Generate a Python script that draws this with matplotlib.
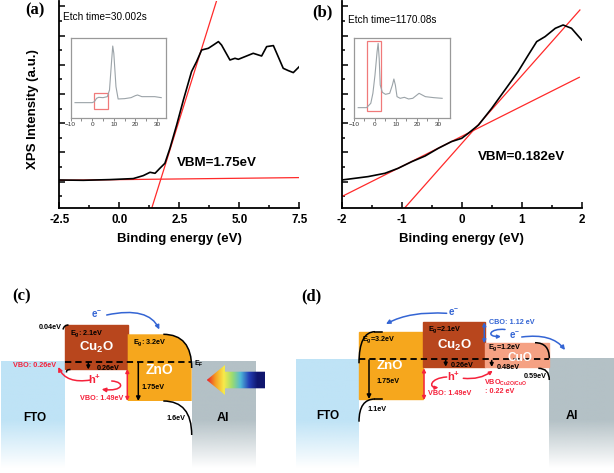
import numpy as np
import matplotlib
matplotlib.use("Agg")
import matplotlib.pyplot as plt
from matplotlib.patches import Rectangle, Polygon, PathPatch, FancyArrowPatch
from matplotlib.path import Path
from matplotlib.colors import LinearSegmentedColormap, to_rgb

plt.rcParams["font.family"] = ["Liberation Sans", "DejaVu Sans"]
plt.rcParams["mathtext.fontset"] = "custom"
plt.rcParams["mathtext.bf"] = "Liberation Sans:bold"
plt.rcParams["mathtext.rm"] = "Liberation Sans"
plt.rcParams["mathtext.default"] = "bf"

W, H = 614, 473

# ---- (a) etch time 30.002 s ----
a_x = [-2.5, -1.5, -0.39, 0.58, 1.0, 1.28, 1.49, 1.69, 1.90, 2.11, 2.39, 2.67, 3.01, 3.22,
       3.43, 3.71, 3.92, 4.13, 4.26, 4.61, 4.82, 4.96, 5.24, 5.58, 5.93, 6.14, 6.42, 6.56,
       6.83, 7.04, 7.25, 7.5]
a_y = [28.3, 28.0, 28.7, 29.7, 32.7, 36.0, 35.0, 40.0, 45.0, 60.0, 83.3, 108.3, 136.7, 146.7,
       158.3, 160.0, 163.3, 166.7, 163.3, 148.3, 150.0, 149.0, 151.7, 155.0, 152.3, 161.7, 162.7, 155.0,
       140.0, 137.7, 135.7, 141.7]
a_base_x, a_base_y = [-2.5, 7.5], [28.0, 30.7]
a_edge_x, a_edge_y = [1.35, 4.06], [0.0, 208.0]
a_ins_x = [-8, 0, 1, 2, 3, 5, 7, 8, 9, 9.5, 10, 11, 12, 15, 18, 20, 21, 23, 26, 29, 32]
a_ins_y = [47, 47, 50, 60, 63, 62, 65, 85, 175, 217, 195, 95, 58, 59, 62, 68, 70, 65, 65, 65, 62]
a_ins_box = (0.9, 7.4, 28, 75)

# ---- (b) etch time 1170.08 s ----
b_x = [-2.0, -1.56, -1.28, -1.06, -0.83, -0.61, -0.39, -0.17, 0.0, 0.11, 0.28, 0.5, 0.72,
       0.94, 1.11, 1.25, 1.39, 1.56, 1.69, 1.83, 2.0]
b_y = [28.3, 31.7, 35.0, 40.0, 46.7, 52.3, 60.0, 66.7, 70.0, 75.0, 83.3, 100.0, 118.3,
       136.7, 153.3, 166.7, 171.7, 180.0, 183.3, 180.0, 168.3]
b_steep_x, b_steep_y = [-0.956, 1.97], [0.0, 198.3]
b_flat_x, b_flat_y = [-2.0, 1.96], [11.7, 131.0]
b_ins_x = [-8, -4, -2, -1, 0, 1, 1.5, 2, 2.5, 3.5, 5, 7, 8.3, 9, 9.7, 10.5, 12, 14, 16, 18, 21, 24, 28, 32]
b_ins_y = [32, 32, 45, 75, 130, 200, 225, 180, 100, 78, 72, 75, 100, 118, 100, 65, 60, 63, 58, 60, 75, 65, 62, 60]
b_ins_box = (-3.8, 2.9, 22, 233)

RED = "#ff2a2a"
TRED = "#f5223b"
BLUE = "#3465d4"
fig = plt.figure(figsize=(W / 100, H / 100), dpi=100)


def px(x, y):
    return x / W, 1 - y / H


# ================= bottom band diagrams (pixel layout) =================
bx = fig.add_axes([0, 0, 1, 1], facecolor="none", zorder=0)
bx.set_xlim(0, W)
bx.set_ylim(H, 0)
bx.axis("off")


def fade_block(x0, x1, y0, y1, color, fade_from):
    n = 200
    ys = np.linspace(y0, y1, n)
    alpha = np.clip((y1 - ys) / (y1 - fade_from), 0, 1)
    img = np.zeros((n, 2, 4))
    img[:, :, :3] = to_rgb(color)
    img[:, :, 3] = alpha[:, None]
    bx.imshow(img, extent=(x0, x1, y1, y0), aspect="auto", interpolation="bilinear", zorder=1)


def bend(pts, lw=1.1, color="black", z=5):
    codes = [Path.MOVETO] + [Path.CURVE3] * 2 if len(pts) == 3 else [Path.MOVETO] + [Path.CURVE4] * 3
    bx.add_patch(PathPatch(Path(pts, codes), fill=False, lw=lw, color=color, zorder=z))


def carrow(pts, color, lw=1.1, ms=6):
    codes = [Path.MOVETO] + [Path.CURVE3] * 2 if len(pts) == 3 else [Path.MOVETO] + [Path.CURVE4] * 3
    bx.add_patch(FancyArrowPatch(path=Path(pts, codes), arrowstyle="-|>", mutation_scale=ms,
                                 color=color, lw=lw, zorder=6))


def sarrow(p0, p1, color="black", style="-|>", lw=1.1, ms=6):
    bx.add_patch(FancyArrowPatch(p0, p1, arrowstyle=style, mutation_scale=ms, color=color,
                                 lw=lw, shrinkA=0, shrinkB=0, zorder=6))


def lab(x, y, s, color="black", size=5.2, ha="left", **kw):
    bx.text(x, y, s, color=color, fontsize=size, fontweight="bold", ha=ha, va="center", zorder=7, **kw)


FTO_C, AL_C = "#bfe3f6", "#b4c1c6"
CU2O_C, ZNO_C, CUO_C = "#b8461d", "#f6a71d", "#f5a183"

# --- (c) FTO / Cu2O / ZnO / Al ---
fade_block(1, 65, 361.7, 468, FTO_C, 420)
fade_block(191.7, 255, 361.7, 468, AL_C, 420)
bx.add_patch(Rectangle((65, 325), 62.7, 44, color=CU2O_C, zorder=2))
zno_c = Path([(127.7, 334.3), (163.3, 334.3), (191.7, 334.3), (191.7, 368), (191.7, 401),
              (127.7, 401), (127.7, 334.3)],
             [Path.MOVETO, Path.LINETO, Path.CURVE3, Path.CURVE3, Path.LINETO, Path.LINETO, Path.CLOSEPOLY])
bx.add_patch(PathPatch(zno_c, color=ZNO_C, lw=0, zorder=2))
bend([(163.3, 334.3), (191.7, 334.3), (191.7, 368)])
bend([(163.3, 401), (191.7, 401), (191.7, 435)])
bend([(63, 329.5), (64, 325), (68.5, 325)])
bend([(70.5, 369.5), (66, 369.5), (66.5, 372.5)])
bx.plot([65, 191.7], [362.3, 362.3], color="black", lw=1.3, ls=(0, (3.5, 2.2)), zorder=5)
sarrow((138.3, 362.3), (138.3, 401))
sarrow((88.3, 362.3), (88.3, 369.5), ms=5)
sarrow((127.3, 369), (127.3, 401), color=TRED, style="<|-|>", ms=5)
carrow([(106.7, 315), (135, 309), (152, 314), (159.3, 329.5)], BLUE)
carrow([(90.7, 380), (66, 384), (58.3, 367)], TRED)
carrow([(111.7, 381), (126, 382), (123, 392), (101.7, 389.3)], TRED)

# rainbow light arrow
rb = Polygon([(206.7, 380), (225, 365), (225, 371.7), (265, 371.7), (265, 388.3), (225, 388.3),
              (225, 395)], closed=True, facecolor="none", edgecolor="none")
bx.add_patch(rb)
rain = LinearSegmentedColormap.from_list("rain", ["#e8202a", "#f5a023", "#f8ea4a", "#9cdc70",
                                                  "#4fb8d8", "#2440b8", "#10166e", "#10166e"])
im = bx.imshow(np.linspace(0, 1, 256)[None, :], cmap=rain, extent=(206.7, 265, 395, 365),
               aspect="auto", zorder=4)
im.set_clip_path(rb)

lab(39, 327, "0.04eV")
lab(70, 333.3, "E$_g$: 2.1eV")
lab(96, 347.7, "Cu$_2$O", color="white", size=9.5, ha="center")
lab(133.3, 342.7, "E$_g$: 3.2eV")
lab(159.3, 369.5, "ZnO", color="white", size=10, ha="center")
lab(194.3, 363.5, "E$_F$", size=5)
lab(96.7, 368.7, "0.26eV")
lab(13.3, 365.7, "VBO: 0.26eV", color=TRED)
lab(95, 379.3, "h$^{+}$", color=TRED, size=8, ha="center")
lab(80, 398.3, "VBO: 1.49eV", color=TRED)
lab(141.7, 387.3, "1.75eV")
lab(166.7, 418.3, "1.6eV")
lab(35, 417.7, "FTO", size=8.5, ha="center")
lab(222.7, 418.3, "Al", size=9, ha="center")
lab(96.7, 314.5, "e$^{-}$", color=BLUE, size=7, ha="center")

# --- (d) FTO / ZnO / Cu2O / CuO / Al ---
fade_block(296, 359, 359.3, 468, FTO_C, 420)
fade_block(549.3, 613.5, 358.3, 468, AL_C, 420)
bx.add_patch(Rectangle((359, 331.7), 64.3, 67.3, color=ZNO_C, zorder=2))
bx.add_patch(Rectangle((423.3, 322.3), 61.7, 44.4, color=CU2O_C, zorder=2))
bx.add_patch(Rectangle((485, 343.3), 64.3, 23.4, color=CUO_C, zorder=2))
bend([(359, 363.3), (359, 331.7), (375, 331.7)])
bx.plot([375, 381.7], [331.7, 331.7], color="black", lw=1.1, zorder=5)
bend([(359, 421.7), (359, 399), (375, 399)])
bx.plot([375, 381.7], [399, 399], color="black", lw=1.1, zorder=5)
bend([(535, 342.7), (549.3, 342.7), (549.3, 358.3)])
bend([(538.3, 368.3), (549.3, 368.3), (549.3, 380)])
bx.plot([359, 549.3], [359.3, 359.3], color="black", lw=1.3, ls=(0, (3.5, 2.2)), zorder=5)
sarrow((369, 360), (369, 399))
sarrow((445.7, 360), (445.7, 366.7), ms=5)
sarrow((491.7, 360.5), (491.7, 367), ms=5)
sarrow((424, 368.3), (424, 400), color=TRED, style="<|-|>", ms=5)
sarrow((484.3, 322.3), (484.3, 343.3), color=BLUE, style="<|-|>", ms=5)
carrow([(446.7, 313.3), (410, 311), (386, 324)], BLUE)
carrow([(505, 329.5), (490, 328), (485, 337), (501, 336.5)], BLUE, ms=5)
carrow([(521.7, 337), (552, 333), (565, 350)], BLUE)
carrow([(446.7, 377), (430, 378), (428, 388), (438.5, 387.5)], TRED, ms=5)
carrow([(463.3, 378.3), (480, 380), (492.7, 370.7)], TRED, ms=5)

lab(361.7, 340, "E$_g$=3.2eV")
lab(390, 365.7, "ZnO", color="white", size=9.5, ha="center")
lab(376, 381.7, "1.75eV")
lab(367.3, 409, "1.1eV")
lab(327.7, 416, "FTO", size=8.5, ha="center")
lab(427.7, 329.3, "E$_g$=2.1eV")
lab(454, 345, "Cu$_2$O", color="white", size=9.5, ha="center")
lab(450.7, 365.7, "0.26eV")
lab(427.7, 393.3, "VBO: 1.49eV", color=TRED)
lab(453.3, 376.7, "h$^{+}$", color=TRED, size=8, ha="center")
lab(484, 383.3, "VBO$_{Cu2O/CuO}$", color=TRED)
lab(485, 391, ": 0.22 eV", color=TRED)
lab(488.3, 347.3, "E$_g$=1.2eV")
lab(520, 357.5, "CuO", color="white", size=8.5, ha="center")
lab(496.7, 367.7, "0.48eV")
lab(524, 376.7, "0.59eV")
lab(489.3, 322.7, "CBO: 1.12 eV", color=BLUE)
lab(515, 335, "e$^{-}$", color=BLUE, size=7, ha="center")
lab(453.3, 312.7, "e$^{-}$", color=BLUE, size=7, ha="center")
lab(572.3, 416, "Al", size=9, ha="center")

for s, (x, y) in [("(a)", (35, 10)), ("(b)", (322.5, 12.5)), ("(c)", (22, 296)), ("(d)", (311, 296))]:
    fig.text(*px(x, y), s, family="Liberation Serif", fontweight="bold", fontsize=12,
             ha="center", va="center")


# ================= top XPS panels =================
def xps_axes(left, xlim, major, minor):
    ax = fig.add_axes([left / W, 1 - 208.3 / H, 240 / W, 207.3 / H])
    ax.set_xlim(*xlim)
    ax.set_ylim(0, 207.3)
    for sp in ["top", "right"]:
        ax.spines[sp].set_visible(False)
    for sp in ["left", "bottom"]:
        ax.spines[sp].set_linewidth(1.3)
    ax.set_xticks(major)
    ax.set_xticks(minor, minor=True)
    ax.set_yticks(np.arange(26.7, 207, 29.2))
    ax.set_yticks(np.arange(12.1, 207, 29.2), minor=True)
    ax.tick_params(which="both", direction="in", width=1.1)
    ax.tick_params(which="major", length=4, labelsize=8.4, pad=4)
    ax.tick_params(which="minor", length=2.5)
    ax.tick_params(axis="y", labelleft=False)
    ax.set_xlabel("Binding energy (eV)", fontsize=9.5, fontweight="bold")
    ax.xaxis.set_label_coords(0.5, -(239 - 208.3) / 207.3)
    ax.xaxis.label.set_va("center")
    return ax


def inset(left, xmax, xs, ys, box):
    ax = fig.add_axes([left / W, 1 - 118.3 / H, 95.5 / W, 80.6 / H])
    ax.plot(xs, ys, color="#9ba3a8", lw=0.8)
    ax.add_patch(Rectangle((box[0], box[2]), box[1] - box[0], box[3] - box[2], fill=False,
                           edgecolor="#f07a7a", lw=0.9))
    ax.set_xlim(-10, xmax)
    ax.set_ylim(0, 242)
    ax.set_yticks([])
    ax.set_xticks([-10, 0, 10, 20, 30])
    ax.set_xticks([-5, 5, 15, 25], minor=True)
    ax.tick_params(which="both", length=1.8, width=0.6, color="#777777", labelsize=4.6,
                   labelcolor="#333333", pad=1)
    for sp in ax.spines.values():
        sp.set_color("#999999")
        sp.set_linewidth(0.9)
    return ax


axa = xps_axes(59.3, (-2.5, 7.5), [-2.5, 0, 2.5, 5, 7.5], [-1.25, 1.25, 3.75, 6.25])
axa.set_xticklabels(["-2.5", "0.0", "2.5", "5.0", "7.5"], fontweight="bold")
axa.plot(a_base_x, a_base_y, color=RED, lw=0.9)
axa.plot(a_edge_x, a_edge_y, color=RED, lw=0.9)
axa.plot(a_x, a_y, color="black", lw=1.2)
axa.set_ylabel("XPS Intensity (a.u.)", fontsize=9.5, fontweight="bold")
axa.yaxis.set_label_coords(-(59.3 - 33) / 240, 0.479)
axa.yaxis.label.set_va("center")
fig.text(*px(63, 17), "Etch time=30.002s", fontsize=7.2, va="center")
fig.text(*px(217, 163), "VBM=1.75eV", fontsize=9.6, fontweight="bold", ha="center", va="center")
inset(70.7, 34.3, a_ins_x, a_ins_y, a_ins_box)

axb = xps_axes(341.7, (-2, 2), [-2, -1, 0, 1, 2], [-1.5, -0.5, 0.5, 1.5])
axb.set_xticklabels(["-2", "-1", "0", "1", "2"], fontweight="bold")
axb.plot(b_flat_x, b_flat_y, color=RED, lw=0.9)
axb.plot(b_steep_x, b_steep_y, color=RED, lw=0.9)
axb.plot(b_x, b_y, color="black", lw=1.2)
fig.text(*px(347.7, 20), "Etch time=1170.08s", fontsize=7.2, va="center")
fig.text(*px(521, 157), "VBM=0.182eV", fontsize=9.6, fontweight="bold", ha="center", va="center")
inset(354, 35.5, b_ins_x, b_ins_y, b_ins_box)

fig.savefig("out.png", dpi=100)
